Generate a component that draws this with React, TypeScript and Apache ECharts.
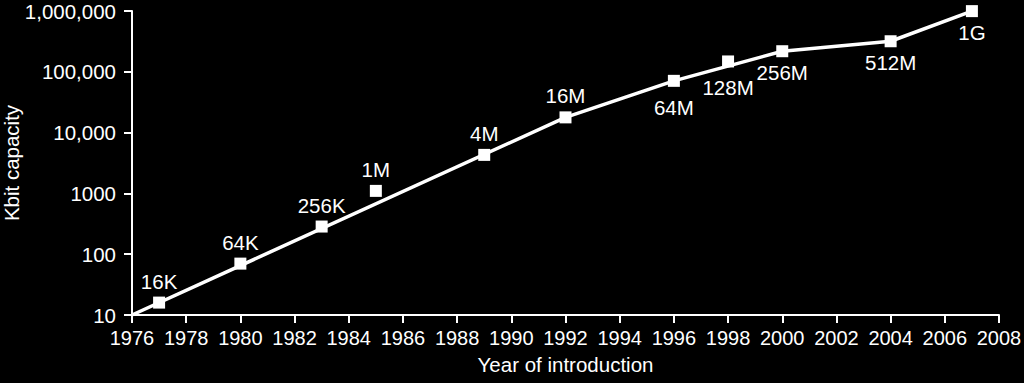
import React, { useEffect, useRef } from "react";
import * as echarts from "echarts";

// Marker data (year of introduction, capacity in Kbit)
const chipYears = [1977, 1980, 1983, 1985, 1989, 1992, 1996, 1998, 2000, 2004, 2007];
const chipCapacity = [16, 70, 285, 1100, 4300, 17800, 71000, 148000, 218000, 318000, 995000];
const chipNames = ["16K", "64K", "256K", "1M", "4M", "16M", "64M", "128M", "256M", "512M", "1G"];

// Trend line vertices
const trendYears = [1976, 1992, 1996, 2000, 2004, 2007];
const trendCapacity = [10, 17800, 71000, 218000, 318000, 995000];

// Axis tick labels
const yTickValues = [10, 100, 1000, 10000, 100000, 1000000];
const yTickLabels = ["10", "100", "1000", "10,000", "100,000", "1,000,000"];

const FONT = "'Liberation Sans', Arial, Helvetica, sans-serif";

export default function App() {
  const ref = useRef<HTMLDivElement>(null);

  useEffect(() => {
    document.body.style.margin = "0";
    document.body.style.background = "#000";
    if (!ref.current) return;
    const chart = echarts.init(ref.current, undefined, { renderer: "svg" });

    const belowSet = new Set(["64M", "128M", "256M", "512M", "1G"]);
    const farBelow = new Set(["64M", "128M"]);

    const scatterData = chipYears.map((y, i) => {
      const name = chipNames[i];
      const below = belowSet.has(name);
      return {
        value: [y, chipCapacity[i]],
        name,
        label: {
          position: below ? "bottom" : "top",
          distance: below ? (farBelow.has(name) ? 10 : 5) : 5,
        },
      };
    });

    chart.setOption({
      animation: false,
      backgroundColor: "#000",
      textStyle: { fontFamily: FONT },
      grid: { left: 132, right: 25, top: 11, bottom: 68, containLabel: false, outerBoundsMode: "none" },
      xAxis: {
        type: "value",
        min: 1976,
        max: 2008,
        interval: 2,
        name: "Year of introduction",
        nameLocation: "middle",
        nameGap: 39,
        nameMoveOverlap: false,
        nameTextStyle: { color: "#fff", fontSize: 20.5, fontFamily: FONT },
        axisLine: { show: true, lineStyle: { color: "#fff", width: 2 } },
        axisTick: { show: true, length: 8, lineStyle: { color: "#fff", width: 2 } },
        axisLabel: {
          color: "#fff",
          fontSize: 20,
          fontFamily: FONT,
          margin: 13,
          hideOverlap: false,
          formatter: (v: number) => String(v),
        },
        splitLine: { show: false },
      },
      yAxis: {
        type: "log",
        logBase: 10,
        min: 10,
        max: 1000000,
        name: "Kbit capacity",
        nameLocation: "middle",
        nameGap: 110,
        nameMoveOverlap: false,
        nameTextStyle: { color: "#fff", fontSize: 20.5, fontFamily: FONT },
        axisLine: { show: true, lineStyle: { color: "#fff", width: 2 } },
        axisTick: { show: true, length: 8, lineStyle: { color: "#fff", width: 2 } },
        axisLabel: {
          color: "#fff",
          fontSize: 20.5,
          fontFamily: FONT,
          margin: 16,
          formatter: (v: number) => {
            const idx = yTickValues.findIndex((t) => Math.abs(Math.log10(t) - Math.log10(v)) < 1e-6);
            return idx >= 0 ? yTickLabels[idx] : "";
          },
        },
        splitLine: { show: false },
      },
      series: [
        {
          type: "line",
          data: trendYears.map((y, i) => [y, trendCapacity[i]]),
          showSymbol: false,
          symbol: "none",
          lineStyle: { color: "#fff", width: 3.5, opacity: 1 },
          z: 2,
        },
        {
          type: "scatter",
          data: scatterData,
          symbol: "rect",
          symbolSize: 12,
          itemStyle: { color: "#fff", opacity: 1 },
          label: {
            show: true,
            color: "#fff",
            fontSize: 20.5,
            fontFamily: FONT,
            formatter: (p: any) => p.name,
          },
          z: 3,
        },
      ],
    });

    return () => chart.dispose();
  }, []);

  return <div ref={ref} style={{ width: 1024, height: 383, background: "#000" }} />;
}
